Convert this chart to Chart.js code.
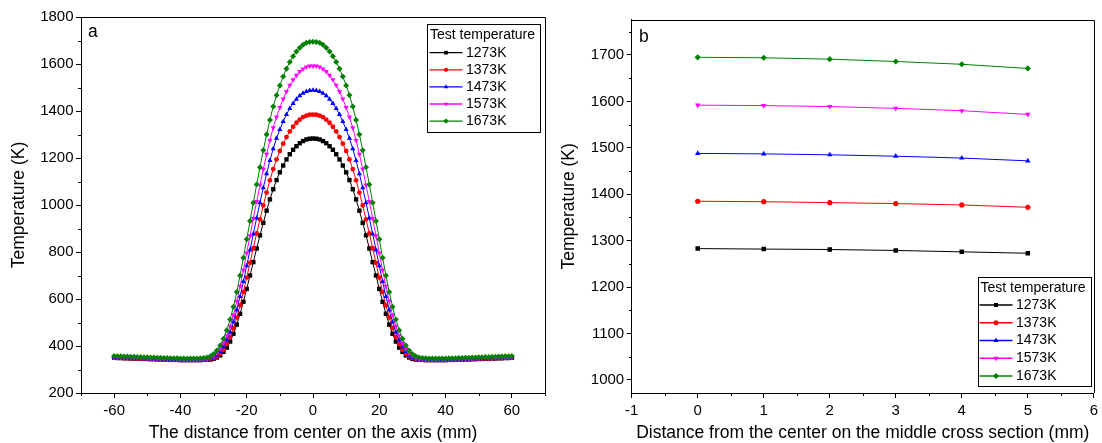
<!DOCTYPE html>
<html><head><meta charset="utf-8">
<script src="https://cdn.jsdelivr.net/npm/chart.js@4.4.1/dist/chart.umd.min.js"></script>
<style>
html,body{margin:0;padding:0;background:#fff;width:1102px;height:443px;overflow:hidden}
#ca{position:absolute;left:0;top:0}
#cb{position:absolute;left:553px;top:0}
</style></head><body>
<canvas id="ca" width="553" height="443"></canvas>
<canvas id="cb" width="549" height="443"></canvas>
<script>
// ---------- data ----------
const seriesLabels = ['1273K','1373K','1473K','1573K','1673K'];
const legendTitle = 'Test temperature';

// panel a: distance from center on the axis (mm)
const axisDist = [-60,-59,-58,-57,-56,-55,-54,-53,-52,-51,-50,-49,-48,-47,-46,-45,-44,-43,-42,-41,
-40,-39,-38,-37,-36,-35,-34,-33,-32,-31,-30,-29,-28,-27,-26,-25,-24,-23,-22,-21,
-20,-19,-18,-17,-16,-15,-14,-13,-12,-11,-10,-9,-8,-7,-6,-5,-4,-3,-2,-1,
0,1,2,3,4,5,6,7,8,9,10,11,12,13,14,15,16,17,18,19,20,
21,22,23,24,25,26,27,28,29,30,31,32,33,34,35,36,37,38,39,40,
41,42,43,44,45,46,47,48,49,50,51,52,53,54,55,56,57,58,59,60];

const axisT1273 = [350,349,349,348,348,347,347,346,346,345,345,344,344,343,343,342,342,341,341,341,
340,340,340,340,340,340,340,341,341,342,345,351,360,375,393,419,452,491,537,588,
643,700,757,815,871,924,976,1024,1067,1106,1139,1168,1194,1216,1235,1250,1263,1272,1279,1282,
1283,
1282,1279,1272,1263,1250,1235,1216,1194,1168,1139,1106,1067,1024,976,924,871,815,757,700,643,
588,537,491,452,419,393,375,360,351,345,342,341,341,340,340,340,340,340,340,340,
341,341,341,342,342,343,343,344,344,345,345,346,346,347,347,348,348,349,349,350];

const axisT1373 = [351,350,350,349,349,348,348,347,347,346,346,345,345,344,344,343,343,342,342,342,
341,341,341,341,341,341,341,342,342,344,348,356,367,385,408,438,476,521,573,630,
691,754,816,879,939,998,1053,1105,1153,1194,1230,1261,1289,1313,1333,1350,1363,1374,1380,1384,
1385,
1384,1380,1374,1363,1350,1333,1313,1289,1261,1230,1194,1153,1105,1053,998,939,879,816,754,691,
630,573,521,476,438,408,385,367,356,348,344,342,342,341,341,341,341,341,341,341,
342,342,342,343,343,344,344,345,345,346,346,347,347,348,348,349,349,350,350,351];

const axisT1473 = [351,350,350,349,349,348,348,347,347,346,346,345,345,344,344,343,343,342,342,342,
341,341,341,341,341,341,341,342,342,346,351,361,376,397,424,459,502,553,611,674,
741,809,877,945,1010,1073,1133,1189,1239,1284,1321,1355,1385,1411,1432,1450,1465,1476,1483,1487,
1488,
1487,1483,1476,1465,1450,1432,1411,1385,1355,1321,1284,1239,1189,1133,1073,1010,945,877,809,741,
674,611,553,502,459,424,397,376,361,351,346,342,342,341,341,341,341,341,341,341,
342,342,342,343,343,344,344,345,345,346,346,347,347,348,348,349,349,350,350,351];

const axisT1573 = [352,351,351,350,350,349,349,348,348,347,347,346,346,345,345,344,344,343,343,343,
342,342,342,342,342,342,342,343,344,349,357,369,387,412,444,484,532,590,654,723,
796,869,943,1015,1085,1152,1216,1275,1329,1375,1415,1451,1483,1510,1533,1552,1568,1579,1587,1591,
1592,
1591,1587,1579,1568,1552,1533,1510,1483,1451,1415,1375,1329,1275,1216,1152,1085,1015,943,869,796,
723,654,590,532,484,444,412,387,369,357,349,344,343,342,342,342,342,342,342,342,
343,343,343,344,344,345,345,346,346,347,347,348,348,349,349,350,350,351,351,352];

const axisT1673 = [357,356,356,355,355,354,354,353,353,352,352,351,351,350,350,349,349,348,348,348,
347,347,347,347,347,347,348,349,351,356,366,381,402,431,467,513,567,630,700,776,
854,932,1010,1087,1161,1233,1300,1362,1419,1467,1509,1547,1580,1609,1633,1653,1669,1682,1690,1694,
1695,
1694,1690,1682,1669,1653,1633,1609,1580,1547,1509,1467,1419,1362,1300,1233,1161,1087,1010,932,854,
776,700,630,567,513,467,431,402,381,366,356,351,349,348,347,347,347,347,347,347,
348,348,348,349,349,350,350,351,351,352,352,353,353,354,354,355,355,356,356,357];

// panel b: distance from the center on the middle cross section (mm)
const crossDist = [0,1,2,3,4,5];
const crossT1273 = [1283,1282,1281,1279,1276,1273];
const crossT1373 = [1385,1384,1382,1380,1377,1372];
const crossT1473 = [1488,1487,1485,1482,1478,1472];
const crossT1573 = [1592,1591,1589,1585,1580,1572];
const crossT1673 = [1695,1694,1691,1686,1680,1671];

// tick labels
const tempTicksA = [200,400,600,800,1000,1200,1400,1600,1800];
const tempMinorA = [300,500,700,900,1100,1300,1500,1700];
const distTicksA = [-60,-40,-20,0,20,40,60];
const distMinorA = [-70,-50,-30,-10,10,30,50,70];
const tempTicksB = [1000,1100,1200,1300,1400,1500,1600,1700];
const tempMinorB = [1050,1150,1250,1350,1450,1550,1650,1750];
const distTicksB = [-1,0,1,2,3,4,5,6];
const distMinorB = [-0.5,0.5,1.5,2.5,3.5,4.5,5.5];

// ---------- styling ----------
const FONT = '"Liberation Sans", Arial, Helvetica, sans-serif';
Chart.defaults.font.family = FONT;
Chart.defaults.color = '#000';
const colors = ['#000000','#ff0000','#0000ff','#ff00ff','#008000'];
const styles = [
  {pointStyle:'rect', rotation:0},
  {pointStyle:'circle', rotation:0},
  {pointStyle:'triangle', rotation:0},
  {pointStyle:'triangle', rotation:180},
  {pointStyle:'rectRot', rotation:0}
];
const radiiA = [3.1,2.4,3.0,3.0,3.0];
const radiiB = [3.2,2.6,3.1,3.1,3.1];

function pairs(xs, ys){ return xs.map((x,i)=>({x:x, y:ys[i]})); }

function makeSets(xs, list, radii){
  return list.map((ys,i)=>({
    label: seriesLabels[i],
    data: pairs(xs, ys),
    borderColor: colors[i],
    backgroundColor: colors[i],
    pointBackgroundColor: colors[i],
    pointBorderColor: colors[i],
    pointBorderWidth: 0,
    borderWidth: 1,
    pointStyle: styles[i].pointStyle,
    pointRotation: styles[i].rotation,
    pointRadius: radii[i],
    pointHoverRadius: radii[i],
    tension: 0,
    fill: false,
    order: 5 - i
  }));
}

const decor = {
  id: 'decor',
  afterDraw(chart, args, o) {
    const ctx = chart.ctx;
    const {left, right, top, bottom} = chart.chartArea;
    const xs = chart.scales.x, ys = chart.scales.y;
    ctx.save();
    ctx.strokeStyle = '#000';
    ctx.lineWidth = 1;
    ctx.beginPath();
    ctx.moveTo(Math.round(left), Math.round(top) + 0.5);
    ctx.lineTo(Math.round(right) + 0.5, Math.round(top) + 0.5);
    ctx.lineTo(Math.round(right) + 0.5, Math.round(bottom));
    for (const v of o.xMinor) {
      const px = Math.round(xs.getPixelForValue(v)) + 0.5;
      ctx.moveTo(px, Math.round(bottom)); ctx.lineTo(px, Math.round(bottom) + 3);
    }
    for (const v of o.yMinor) {
      const py = Math.round(ys.getPixelForValue(v)) + 0.5;
      ctx.moveTo(Math.round(left), py); ctx.lineTo(Math.round(left) - 3, py);
    }
    ctx.stroke();

    ctx.fillStyle = '#000';
    ctx.font = '17.5px ' + FONT;
    ctx.textAlign = 'left';
    ctx.textBaseline = 'middle';
    ctx.fillText(o.panel, o.panelX, o.panelY);

    const L = o.legend;
    ctx.fillStyle = '#fff';
    ctx.fillRect(L.x0, L.y0, L.x1 - L.x0, L.y1 - L.y0);
    ctx.strokeStyle = '#000';
    ctx.lineWidth = 1;
    ctx.strokeRect(Math.round(L.x0) + 0.5, Math.round(L.y0) + 0.5, Math.round(L.x1 - L.x0), Math.round(L.y1 - L.y0));
    ctx.fillStyle = '#000';
    ctx.font = '14px ' + FONT;
    ctx.fillText(legendTitle, L.titleX, L.titleY);
    seriesLabels.forEach((lab, i) => {
      const y = L.firstY + i * L.step;
      ctx.strokeStyle = colors[i];
      ctx.lineWidth = 1.3;
      ctx.beginPath();
      ctx.moveTo(L.lx0, y); ctx.lineTo(L.lx1, y);
      ctx.stroke();
      ctx.fillStyle = colors[i];
      ctx.strokeStyle = colors[i];
      ctx.lineWidth = 0;
      Chart.helpers.drawPoint(ctx, {pointStyle: styles[i].pointStyle, rotation: styles[i].rotation, radius: L.r[i], borderWidth: 0}, (L.lx0 + L.lx1) / 2, y);
      ctx.fillStyle = '#000';
      ctx.fillText(lab, L.textX, y);
    });
    ctx.restore();
  }
};

function axisCommon(){
  return {
    type: 'linear',
    grid: {drawOnChartArea: false, drawTicks: true, tickLength: 5, color: '#000', lineWidth: 1},
    border: {display: true, color: '#000', width: 1},
  };
}

// ---------- chart a ----------
new Chart(document.getElementById('ca'), {
  type: 'line',
  data: { datasets: makeSets(axisDist, [axisT1273, axisT1373, axisT1473, axisT1573, axisT1673], radiiA) },
  options: {
    responsive: false, animation: false, devicePixelRatio: 1,
    layout: {padding: {left: 0, right: 8, top: 17, bottom: 0}},
    plugins: {
      legend: {display: false}, tooltip: {enabled: false},
      decor: {
        xMinor: distMinorA, yMinor: tempMinorA, panel: 'a', panelX: 88, panelY: 32,
        legend: {x0: 427, y0: 24, x1: 540, y1: 132, titleX: 430, titleY: 35.5,
                 firstY: 52.7, step: 17.1, lx0: 429.5, lx1: 462.5, textX: 466, r: [2.6,2.1,2.6,2.6,2.7]}
      }
    },
    scales: {
      x: Object.assign(axisCommon(), {
        min: -70, max: 70,
        afterBuildTicks: s => { s.ticks = distTicksA.map(v => ({value: v})); },
        afterFit: s => { s.height = 50; },
        ticks: {font: {size: 15}, padding: 4, maxRotation: 0, autoSkip: false, color: '#000', callback: v => String(v)},
        title: {display: true, text: 'The distance from center on the axis (mm)', color: '#000',
                font: {size: 17.5, lineHeight: 1}, padding: {top: 0, bottom: 1}}
      }),
      y: Object.assign(axisCommon(), {
        min: 200, max: 1800,
        afterBuildTicks: s => { s.ticks = tempTicksA.map(v => ({value: v})); },
        afterFit: s => { s.width = 81; },
        ticks: {font: {size: 15}, padding: 2.5, autoSkip: false, color: '#000', callback: v => String(v)},
        title: {display: true, text: 'Temperature (K)', color: '#000',
                font: {size: 17.5, lineHeight: 1}, padding: {top: 10.5, bottom: 0}}
      })
    }
  },
  plugins: [decor]
});

// ---------- chart b ----------
const OX = 553;
new Chart(document.getElementById('cb'), {
  type: 'line',
  data: { datasets: makeSets(crossDist, [crossT1273, crossT1373, crossT1473, crossT1573, crossT1673], radiiB) },
  options: {
    responsive: false, animation: false, devicePixelRatio: 1,
    layout: {padding: {left: 0, right: 8, top: 19.7, bottom: 0}},
    plugins: {
      legend: {display: false}, tooltip: {enabled: false},
      decor: {
        xMinor: distMinorB, yMinor: tempMinorB, panel: 'b', panelX: 639 - OX, panelY: 37,
        legend: {x0: 977.5 - OX, y0: 277, x1: 1090.5 - OX, y1: 386, titleX: 980.5 - OX, titleY: 288.5,
                 firstY: 305, step: 17.75, lx0: 979.5 - OX, lx1: 1012.5 - OX, textX: 1016 - OX, r: [2.8,2.5,3,3,3]}
      }
    },
    scales: {
      x: Object.assign(axisCommon(), {
        min: -1, max: 6,
        afterBuildTicks: s => { s.ticks = distTicksB.map(v => ({value: v})); },
        afterFit: s => { s.height = 50; },
        ticks: {font: {size: 15}, padding: 4, maxRotation: 0, autoSkip: false, color: '#000', callback: v => String(v)},
        title: {display: true, text: 'Distance from the center on the middle cross section (mm)', color: '#000',
                font: {size: 17.5, lineHeight: 1}, padding: {top: 0, bottom: 1}}
      }),
      y: Object.assign(axisCommon(), {
        min: 972, max: 1776,
        afterBuildTicks: s => { s.ticks = tempTicksB.map(v => ({value: v})); },
        afterFit: s => { s.width = 78.7; },
        ticks: {font: {size: 15}, padding: 2.5, autoSkip: false, color: '#000', callback: v => String(v)},
        title: {display: true, text: 'Temperature (K)', color: '#000',
                font: {size: 17.5, lineHeight: 1}, padding: {top: 7, bottom: 0}}
      })
    }
  },
  plugins: [decor]
});
</script>
</body></html>
